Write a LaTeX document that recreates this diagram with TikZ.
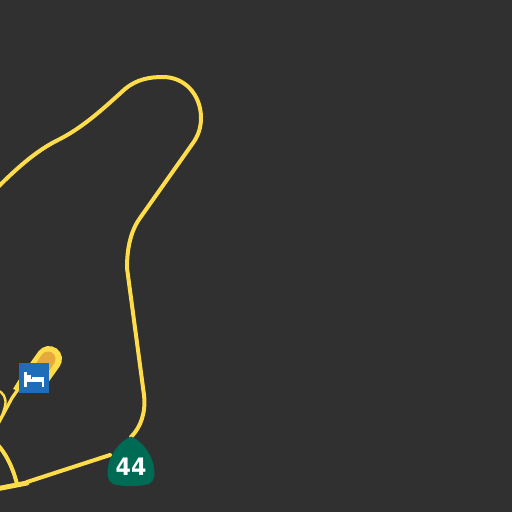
\documentclass[tikz,border=0pt]{standalone}
\usepackage{fontspec}
\setsansfont{DejaVu Sans}
\usepackage{xcolor}
\usetikzlibrary{positioning, calc}
\definecolor{landdark}{HTML}{303030}
\definecolor{roadyellow}{HTML}{FFDC4A}
\definecolor{roadorange}{HTML}{E6A93C}
\definecolor{hotelblue}{HTML}{1F6DB8}
\definecolor{shieldgreen}{HTML}{006B54}
\tikzset{
  road/.style={draw=roadyellow, line width=4pt, line cap=round, line join=round},
  sideroad/.style={draw=roadyellow, line width=3.2pt, line cap=round, line join=round},
  bedpart/.style={fill=white, draw=none}
}

\begin{document}
\begin{tikzpicture}[x=1pt, y=-1pt]
  \fill[landdark] (0,0) rectangle (512,512);
  \useasboundingbox (0,0) rectangle (512,512);
  \clip (0,0) rectangle (512,512);
  % main loop
  \draw[road] (-6,191) .. controls (15,170) and (35,151) .. (60,139) .. controls (85,126) and (105,107) .. (125,89) .. controls (137,79) and (150,77) .. (163,77) .. controls (185,77) and (201,95) .. (201,118) .. controls (201,128) and (198,136) .. (193,143) -- (140,218) .. controls (130,232) and (127,250) .. (127,268) -- (144,395) .. controls (146,412) and (141,427) .. (131,437);
  \draw[road] (110,455) -- (27,482);
  \draw[road, line width=5pt] (27,483) -- (-4,489);
  % side roads near the hotel
  \draw[draw=roadyellow, line width=26pt, line cap=round] (49,359) -- (39,373);
  \fill[roadyellow] (29,363) -- (13,389) -- (22,392) -- (40,380) -- cycle;
  \draw[draw=roadorange, line width=15pt, line cap=round] (48,359) -- (42,368);
  \draw[sideroad] (21,385) -- (12,398) -- (-2,424);
  \draw[sideroad, line width=2.4pt] (-3,390) .. controls (3,392) and (7,398) .. (5,406) .. controls (4,411) and (2,416) .. (0,420);
  \draw[road] (-4,443) .. controls (6,453) and (13,468) .. (17,484);
  % hotel sign
  \node[fill=hotelblue, minimum size=30pt, inner sep=0pt, anchor=north west] (hotelsign) at (19,363) {};
  \fill[bedpart] (24,372) rectangle (26.6,387);
  \fill[bedpart] (26,379.3) rectangle (44.3,382.3);
  \fill[bedpart] (27,375) rectangle (31,379.3);
  \fill[bedpart] (32,377) rectangle (44.3,379.3);
  \fill[bedpart] (41.7,382) rectangle (44.3,387);
  % route shield
  \fill[shieldgreen] (131,436.5) .. controls (142,441) and (154,455) .. (154.5,473) .. controls (154.5,480) and (152,484) .. (145,485) .. controls (136,486.5) and (126,486.5) .. (117,485) .. controls (110,484) and (107.5,480) .. (107.5,473) .. controls (108,455) and (120,441) .. (131,436.5) -- cycle;
  \node[font=\sffamily\bfseries\fontsize{24}{24}\selectfont, text=white, inner sep=0pt, xscale=0.92] (routenum) at (131,467) {44};
\end{tikzpicture}
\end{document}
